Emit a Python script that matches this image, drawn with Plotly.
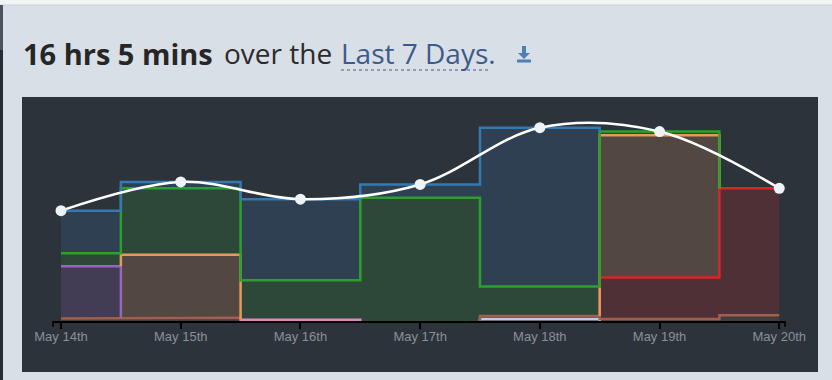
import plotly.graph_objects as go
import numpy as np

# ---------------- data ----------------
days = ["May 14th", "May 15th", "May 16th", "May 17th", "May 18th", "May 19th", "May 20th"]
# hours per day, stacked bottom -> top
lavender = [0, 0, 0, 0, 0.03, 0, 0]
pink = [0, 0, 0.02, 0, 0, 0, 0]
brown = [0.04, 0.05, 0, 0, 0.05, 0.03, 0.09]
purple = [0.82, 0, 0, 0, 0, 0, 0]
red = [0, 0, 0, 0, 0, 0.65, 1.99]
orange = [0, 0.99, 0, 0, 0, 2.23, 0]
green = [0.20, 1.04, 0.62, 1.93, 0.46, 0.06, 0]
blue = [0.67, 0.10, 1.27, 0.21, 2.49, 0, 0]

series = [
    ("lavender", lavender, "#c5c8e0"),
    ("pink", pink, "#d98cc4"),
    ("brown", brown, "#a0604f"),
    ("purple", purple, "#9467bd"),
    ("red", red, "#d62728"),
    ("orange", orange, "#e59b59"),
    ("green", green, "#2ca02c"),
    ("blue", blue, "#3579b1"),
]

xs = list(range(len(days)))
W, H = 832, 380
ML, MR, MT, MB = 53, 47, 97, 59
PW, PH = W - ML - MR, H - MT - MB


def px(x):
    return (x - ML) / PW


def py(y):
    return (H - MB - y) / PH


def rgba(hexc, a):
    h = hexc.lstrip("#")
    r, g, b = int(h[0:2], 16), int(h[2:4], 16), int(h[4:6], 16)
    return f"rgba({r},{g},{b},{a})"


def step_path(v, c):
    n = len(v)
    X, Y = [], []
    for i in range(n):
        if v[i] <= 0:
            continue
        left = max(i - 0.5, 0)
        right = min(i + 0.5, n - 1)
        if i > 0 and v[i - 1] <= 0:
            X += [None, left]
            Y += [None, c[i - 1]]
        X += [left, right]
        Y += [c[i], c[i]]
        if i < n - 1 and v[i + 1] <= 0:
            X += [right]
            Y += [c[i + 1]]
    return X, Y


fig = go.Figure()

# stacked fills
for name, vals, col in series:
    fig.add_trace(go.Scatter(
        x=xs, y=vals, stackgroup="one", mode="lines",
        line=dict(width=0, shape="hvh", color=col),
        fillcolor=rgba(col, 0.2), hoverinfo="skip", showlegend=False, name=name,
    ))

# step outlines
cum = np.zeros(len(days))
for name, vals, col in series:
    cum = cum + np.array(vals)
    X, Y = step_path(vals, list(cum))
    fig.add_trace(go.Scatter(
        x=X, y=Y, mode="lines", line=dict(width=2.5, color=col),
        hoverinfo="skip", showlegend=False, connectgaps=False,
    ))

totals = list(np.sum([s[1] for s in series], axis=0))
fig.add_trace(go.Scatter(
    x=xs, y=totals, mode="lines+markers",
    line=dict(color="white", width=2.5, shape="spline", smoothing=1),
    marker=dict(color="#eef3f8", size=11),
    showlegend=False, hoverinfo="skip",
))

shapes = [
    # top white strip
    dict(type="rect", xref="paper", yref="paper", x0=px(0), x1=px(832), y0=py(5), y1=py(0),
         fillcolor="#f3f4f6", line=dict(width=0), layer="below"),
    dict(type="line", xref="paper", yref="paper", x0=px(0), x1=px(832), y0=py(5), y1=py(5),
         line=dict(color="#c9ced5", width=1), layer="below"),
    # left dark strip
    dict(type="rect", xref="paper", yref="paper", x0=px(0), x1=px(3), y0=py(50), y1=py(5),
         fillcolor="#4a545e", line=dict(width=0), layer="below"),
    dict(type="rect", xref="paper", yref="paper", x0=px(0), x1=px(3), y0=py(380), y1=py(50),
         fillcolor="#262c33", line=dict(width=0), layer="below"),
    # dark panel
    dict(type="rect", xref="paper", yref="paper", x0=px(22), x1=px(818), y0=py(372), y1=py(97),
         fillcolor="#2d333b", line=dict(width=0), layer="below"),
    # outer axis end ticks
    dict(type="line", xref="paper", yref="paper", x0=0, x1=0, y0=0, y1=py(327),
         line=dict(color="#000", width=1.5)),
    dict(type="line", xref="paper", yref="paper", x0=1, x1=1, y0=0, y1=py(327),
         line=dict(color="#000", width=1.5)),
    # dotted underline
    dict(type="line", xref="paper", yref="paper", x0=px(341), x1=px(491), y0=py(70), y1=py(70),
         line=dict(color="#3c5a8a", width=1, dash="dot")),
    # download icon
    dict(type="rect", xref="paper", yref="paper", x0=px(522), x1=px(526), y0=py(53), y1=py(46),
         fillcolor="#4f7fb0", line=dict(width=0)),
    dict(type="path", xref="paper", yref="paper",
         path=f"M {px(518)},{py(53)} L {px(530)},{py(53)} L {px(524)},{py(59)} Z",
         fillcolor="#4f7fb0", line=dict(width=0)),
    dict(type="rect", xref="paper", yref="paper", x0=px(517), x1=px(531), y0=py(62.5), y1=py(59.5),
         fillcolor="#4f7fb0", line=dict(width=0)),
]

title_font = "Open Sans"
annotations = [
    dict(xref="paper", yref="paper", x=px(21), y=py(53), xanchor="left", yanchor="middle",
         showarrow=False, text="<b>16 hrs 5 mins</b>",
         font=dict(family=title_font, size=29, color="#262626")),
    dict(xref="paper", yref="paper", x=px(222), y=py(53), xanchor="left", yanchor="middle",
         showarrow=False, text="over the",
         font=dict(family=title_font, size=28, color="#2b2b2b")),
    dict(xref="paper", yref="paper", x=px(339), y=py(53), xanchor="left", yanchor="middle",
         showarrow=False, text="Last 7 Days.",
         font=dict(family=title_font, size=28, color="#3c5a8a")),
]

fig.update_layout(
    width=W, height=H, autosize=False,
    margin=dict(l=ML, r=MR, t=MT, b=MB, pad=0),
    paper_bgcolor="#d9dfe6", plot_bgcolor="rgba(0,0,0,0)",
    showlegend=False,
    shapes=shapes,
    annotations=annotations,
    xaxis=dict(
        range=[-0.067, 6.048], tickmode="array", tickvals=xs, ticktext=days,
        showgrid=False, zeroline=False, showline=True, linecolor="#000", linewidth=2,
        ticks="outside", ticklen=6, tickcolor="#000", tickwidth=1.5,
        ticklabelstandoff=-4,
        tickfont=dict(family="Liberation Sans, Arial", size=13, color="#8a9098"),
        fixedrange=True,
    ),
    yaxis=dict(range=[0, 3.511], visible=False, fixedrange=True),
)

fig.write_html("out.html", config={"displayModeBar": False},
               post_script="document.body.style.margin='0';document.body.style.padding='0';")
